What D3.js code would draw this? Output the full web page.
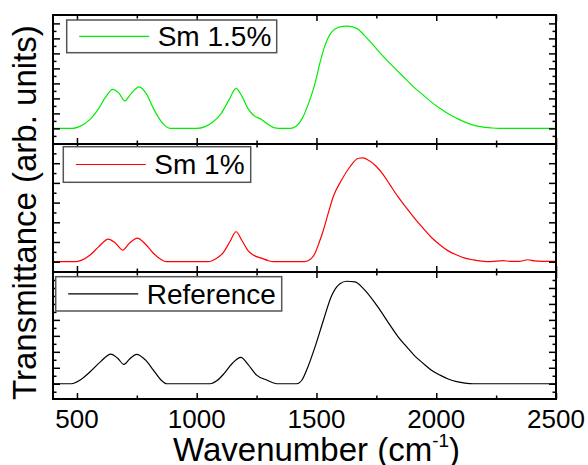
<!DOCTYPE html>
<html><head><meta charset="utf-8">
<script src="https://cdn.jsdelivr.net/npm/d3@7"></script>
<style>
html,body{margin:0;padding:0;background:#fff;}
text{font-family:"Liberation Sans",Arial,sans-serif;fill:#000;}
</style></head>
<body><svg id="c" width="588" height="465"></svg>
<script>
// ---- data ----
const xDomain = [400, 2500];
const xMajorTicks = [500, 1000, 1500, 2000, 2500];
const xMinorTicks = [750, 1250, 1750, 2250];
const seriesNames = ["Sm 1.5%", "Sm 1%", "Reference"];
const seriesColors = ["#00ee00", "#ff0000", "#000000"];

const sm15Wave = [400,480,510,555,590,620,649,675,700,725,760,790,820,850,870,888,1000,1035,1069,1100,1135,1164,1190,1215,1236,1270,1300,1325,1360,1390,1415,1440,1470,1494,1515,1535,1560,1598,1626,1668,1700,1737,1770,1807,1840,1877,1910,1946,1980,2016,2050,2086,2120,2155,2190,2225,2260,2500];
const sm15Val  = [0,0,0.12,0.6,1.3,2.1,2.6,2.35,1.84,2.3,2.77,2.3,1.3,0.5,0.15,0,0,0.12,0.44,0.95,1.9,2.67,2.1,1.3,0.89,0.6,0.25,0.04,0,0,0.15,0.65,1.8,3.0,4.4,5.5,6.35,6.77,6.82,6.67,6.2,5.55,4.95,4.33,3.8,3.22,2.7,2.22,1.75,1.33,0.97,0.67,0.42,0.22,0.1,0.04,0,0];

const sm1Wave = [400,492,520,555,590,631,660,691,720,752,785,819,850,875,1048,1080,1110,1140,1164,1190,1215,1236,1270,1300,1320,1450,1475,1494,1512,1529,1550,1570,1605,1640,1675,1695,1710,1751,1780,1807,1840,1877,1910,1946,1980,2016,2050,2086,2120,2155,2190,2225,2279,2310,2350,2382,2410,2440,2500];
const sm1Val  = [0,0,0.08,0.34,0.75,1.15,0.95,0.59,0.95,1.2,0.9,0.43,0.12,0,0,0.15,0.45,1.05,1.52,1.05,0.55,0.34,0.18,0.05,0,0,0.12,0.43,1.0,1.61,2.5,3.3,4.15,4.82,5.25,5.27,5.2,4.82,4.4,3.9,3.3,2.71,2.2,1.69,1.23,0.85,0.55,0.34,0.18,0.09,0.03,0,0.05,0.02,0.02,0.1,0.04,0.02,0.02];

const refWave = [400,478,510,555,600,641,670,696,720,749,785,819,850,875,1056,1085,1115,1150,1184,1215,1250,1292,1334,1417,1440,1459,1494,1529,1564,1598,1626,1661,1696,1751,1807,1840,1877,1910,1946,1980,2016,2050,2086,2120,2155,2500];
const refVal  = [0,0,0.2,0.75,1.4,1.86,1.6,1.21,1.55,1.84,1.5,0.86,0.25,0,0,0.2,0.65,1.3,1.65,1.2,0.54,0.23,0,0,0.25,0.86,2.31,3.98,5.54,6.27,6.42,6.38,5.96,4.92,3.67,2.95,2.31,1.75,1.27,0.85,0.54,0.3,0.13,0.04,0,0];

// per-panel y ranges (arb. units) and tick values
const yDomains = [[-1.04, 7.56], [-0.523, 5.975], [-0.956, 7.0]];
const yMajorTicks = [[0,1,2,3,4,5,6,7],[0,1,2,3,4,5],[0,1,2,3,4,5,6]];
const yMinorTicks = [[-0.5,0.5,1.5,2.5,3.5,4.5,5.5,6.5],[0.5,1.5,2.5,3.5,4.5,5.5],[-0.5,0.5,1.5,2.5,3.5,4.5,5.5,6.5]];

// ---- layout ----
const svg = d3.select("#c");
const L = 53, R = 556;
const panelTops = [15, 144, 272], panelBots = [144, 272, 399];
const legendBoxes = [[66.7,20,210,32.7],[63.3,146.7,187.4,35.6],[55.7,276.7,226,34.3]];

const x = d3.scaleLinear().domain(xDomain).range([L, R]);
const waves = [sm15Wave, sm1Wave, refWave];
const vals = [sm15Val, sm1Val, refVal];

function styleAxis(g){ g.select(".domain").remove(); g.selectAll(".tick line").attr("stroke","#000").attr("stroke-width",1.5); g.selectAll(".tick text").remove(); }

for (let p = 0; p < 3; p++) {
  const y = d3.scaleLinear().domain(yDomains[p]).range([panelBots[p], panelTops[p]]);
  const g = svg.append("g");
  const pts = waves[p].map((w,i)=>[w, vals[p][i]]);
  g.append("path").datum(pts)
    .attr("fill","none").attr("stroke",seriesColors[p]).attr("stroke-width",1.2)
    .attr("d", d3.line().x(d=>x(d[0])).y(d=>y(d[1])).curve(d3.curveMonotoneX));
  [[xMajorTicks,6],[xMinorTicks,3.5]].forEach(([tv,len])=>{
    g.append("g").attr("transform",`translate(0,${panelTops[p]})`).call(d3.axisTop(x).tickValues(tv).tickSize(-len)).call(styleAxis);
    g.append("g").attr("transform",`translate(0,${panelBots[p]})`).call(d3.axisBottom(x).tickValues(tv).tickSize(-len)).call(styleAxis);
  });
  [[yMajorTicks[p],7],[yMinorTicks[p],3.5]].forEach(([tv,len])=>{
    g.append("g").attr("transform",`translate(${L},0)`).call(d3.axisLeft(y).tickValues(tv).tickSize(-len)).call(styleAxis);
    g.append("g").attr("transform",`translate(${R},0)`).call(d3.axisRight(y).tickValues(tv).tickSize(-len)).call(styleAxis);
  });
  g.append("rect").attr("x",L).attr("y",panelTops[p]).attr("width",R-L).attr("height",panelBots[p]-panelTops[p])
    .attr("fill","none").attr("stroke","#000").attr("stroke-width",2);
  const b = legendBoxes[p];
  g.append("rect").attr("x",b[0]).attr("y",b[1]).attr("width",b[2]).attr("height",b[3])
    .attr("fill","#fff").attr("stroke","#555").attr("stroke-width",1.5);
  const ly = b[1] + b[3]/2;
  g.append("line").attr("x1",b[0]+12.5).attr("x2",b[0]+82.5).attr("y1",ly).attr("y2",ly)
    .attr("stroke",seriesColors[p]).attr("stroke-width",1.2);
  g.append("text").attr("x",b[0]+91).attr("y",ly+9.8).attr("font-size",28).text(seriesNames[p]);
}

svg.append("g").selectAll("text").data(xMajorTicks).join("text")
  .attr("x",d=>x(d)).attr("y",428).attr("text-anchor","middle").attr("font-size",26).text(d=>d);

const xt = svg.append("text").attr("x",173).attr("y",461).attr("font-size",33);
xt.append("tspan").text("Wavenumber (cm");
xt.append("tspan").attr("font-size",19).attr("dy",-14).text("-1");
xt.append("tspan").attr("dy",14).text(")");

svg.append("text").attr("transform","translate(36,400) rotate(-90)").attr("font-size",33)
  .text("Transmittance (arb. units)");
</script></body></html>
